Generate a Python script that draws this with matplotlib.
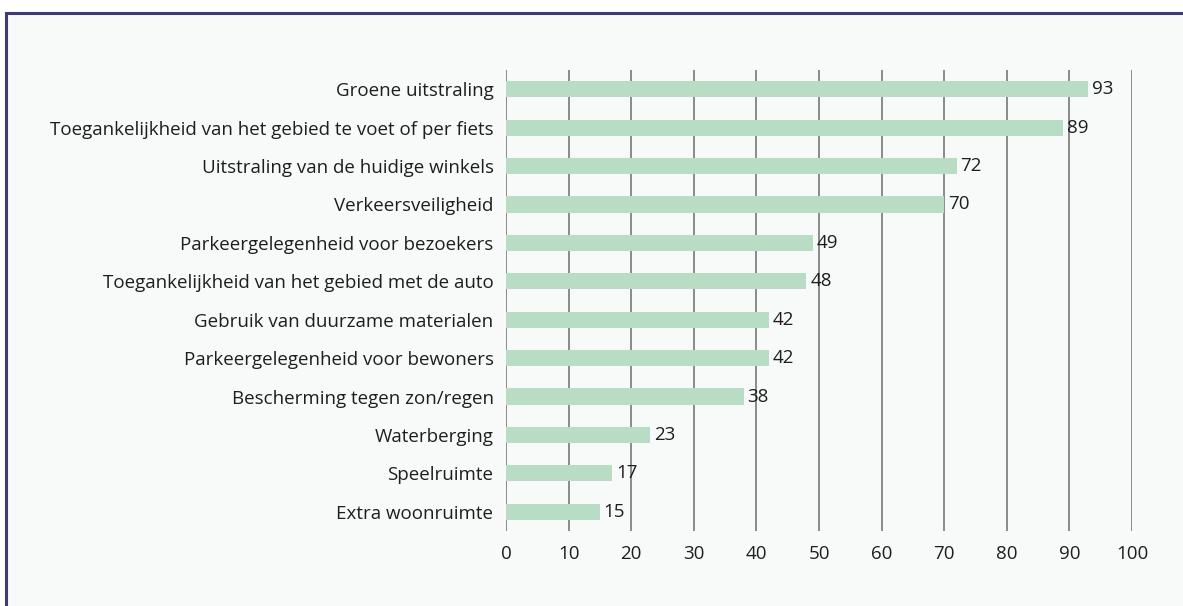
#!/usr/bin/env python3
"""Horizontal bar chart: scores per aspect (0-100)."""

import matplotlib
matplotlib.use('Agg')
import matplotlib.pyplot as plt
from matplotlib.patches import Rectangle

labels = [
    'Groene uitstraling',
    'Toegankelijkheid van het gebied te voet of per fiets',
    'Uitstraling van de huidige winkels',
    'Verkeersveiligheid',
    'Parkeergelegenheid voor bezoekers',
    'Toegankelijkheid van het gebied met de auto',
    'Gebruik van duurzame materialen',
    'Parkeergelegenheid voor bewoners',
    'Bescherming tegen zon/regen',
    'Waterberging',
    'Speelruimte',
    'Extra woonruimte',
]
values = [93, 89, 72, 70, 49, 48, 42, 42, 38, 23, 17, 15]
xticks = [0, 10, 20, 30, 40, 50, 60, 70, 80, 90, 100]

BAR_COLOR = '#b9dcc4'
GRID_COLOR = '#8a8a8a'
TEXT_COLOR = '#1e1e1e'
FRAME_COLOR = '#3f3b78'
BG_COLOR = '#f8f9f9'
FS = 13.5

plt.rcParams['font.family'] = ['Open Sans', 'DejaVu Sans']

W, H = 1183, 606
fig = plt.figure(figsize=(W / 100, H / 100), dpi=100)
fig.patch.set_facecolor('white')

# framed panel, open to the right and bottom
frame = Rectangle((6 / W, -0.05), 1.1, 1 - 13 / H + 0.05, transform=fig.transFigure,
                  facecolor=BG_COLOR, edgecolor=FRAME_COLOR, linewidth=2.2,
                  clip_on=False, zorder=-5)
fig.patches.append(frame)

ax = fig.add_axes([506 / W, 1 - 531 / H, (1132 - 506) / W, (531 - 70) / H])
ax.set_facecolor('none')
ax.set_zorder(1)

ypos = list(range(len(labels)))
ax.barh(ypos, values, height=0.42, color=BAR_COLOR, zorder=2)

for y, v in zip(ypos, values):
    ax.text(v + 0.6, y, str(v), va='center', ha='left', fontsize=FS,
            color=TEXT_COLOR, zorder=3)

ax.set_xlim(0, 100)
ax.set_ylim(len(labels) - 0.5, -0.5)
ax.set_yticks(ypos)
ax.set_yticklabels(labels, fontsize=FS, color=TEXT_COLOR)
ax.set_xticks(xticks)
ax.set_xticklabels([str(t) for t in xticks], fontsize=FS, color=TEXT_COLOR)
ax.tick_params(axis='both', length=0)
ax.tick_params(axis='x', pad=10)
ax.tick_params(axis='y', pad=9)

for t in xticks:
    ax.axvline(t, color=GRID_COLOR, linewidth=1.4, zorder=1)

for s in ax.spines.values():
    s.set_visible(False)

plt.savefig('out.png', dpi=100, facecolor=fig.get_facecolor())
plt.close()
